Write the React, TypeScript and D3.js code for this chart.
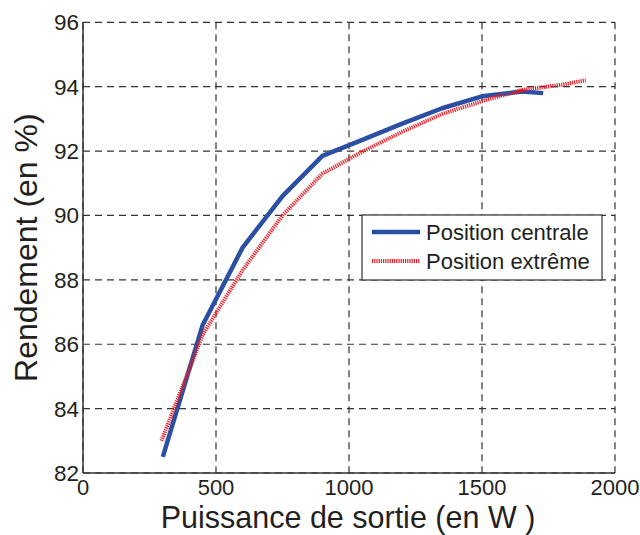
import React from "react";
import * as d3 from "d3";

const xTicks = [0, 500, 1000, 1500, 2000];
const yTicks = [82, 84, 86, 88, 90, 92, 94, 96];
const centraleX = [300, 450, 600, 750, 900, 1050, 1200, 1350, 1500, 1650, 1730];
const centraleY = [82.5, 86.6, 89.0, 90.6, 91.85, 92.35, 92.85, 93.33, 93.7, 93.85, 93.8];
const extremeX = [295, 450, 600, 750, 900, 1050, 1200, 1350, 1500, 1650, 1800, 1890];
const extremeY = [83.0, 86.3, 88.3, 90.0, 91.3, 91.98, 92.6, 93.15, 93.55, 93.9, 94.06, 94.2];
const seriesNames = ["Position centrale", "Position extrême"];

export default function App() {
  const W = 640, H = 535;
  const x = d3.scaleLinear().domain([0, 2000]).range([83, 615]);
  const y = d3.scaleLinear().domain([82, 96]).range([473, 22.3]);
  const line = d3.line<[number, number]>().x(d => x(d[0])).y(d => y(d[1]));
  const c = centraleX.map((v, i) => [v, centraleY[i]] as [number, number]);
  const e = extremeX.map((v, i) => [v, extremeY[i]] as [number, number]);
  const font = "Liberation Sans, Arial, sans-serif";
  const txt = "#231f20";
  return (
    <svg width={W} height={H} style={{ position: "absolute", left: 0, top: 0 }} fontFamily={font}>
      <rect width={W} height={H} fill="#fff" />
      {xTicks.map(t => (
        <line key={"gx" + t} x1={x(t)} x2={x(t)} y1={y(96)} y2={y(82)} stroke="#333" strokeWidth={1.2} strokeDasharray="7,5" />
      ))}
      {yTicks.map(t => (
        <line key={"gy" + t} x1={x(0)} x2={x(2000)} y1={y(t)} y2={y(t)} stroke="#333" strokeWidth={1.2} strokeDasharray="7,5" />
      ))}
      <line x1={x(0)} x2={x(0)} y1={y(96)} y2={y(82)} stroke="#333" strokeWidth={1.5} />
      <line x1={x(0)} x2={x(2000)} y1={y(82)} y2={y(82)} stroke="#333" strokeWidth={1.5} />
      {xTicks.map(t => (
        <text key={"tx" + t} x={x(t)} y={495} textAnchor="middle" fontSize={22} fill={txt}>{t}</text>
      ))}
      {yTicks.map(t => (
        <text key={"ty" + t} x={x(0) - 4} y={y(t) + 8} textAnchor="end" fontSize={22.5} fill={txt}>{t}</text>
      ))}
      <text x={348} y={528} textAnchor="middle" fontSize={30.5} fill={txt}>Puissance de sortie (en W )</text>
      <text transform={`translate(37,${y(89)}) rotate(-90)`} textAnchor="middle" fontSize={32} fill={txt}>Rendement (en %)</text>
      <path d={line(c) || ""} fill="none" stroke="#2b4fa3" strokeWidth={4.5} strokeLinejoin="round" />
      <path d={line(e) || ""} fill="none" stroke="#ee1c25" strokeWidth={4} strokeDasharray="1.2,1" />
      <rect x={362} y={215} width={240} height={65} fill="#fff" stroke="#333" strokeWidth={1.2} />
      <line x1={372} x2={420} y1={232} y2={232} stroke="#2b4fa3" strokeWidth={4.5} />
      <line x1={372} x2={420} y1={261} y2={261} stroke="#ee1c25" strokeWidth={4} strokeDasharray="1.2,1" />
      <text x={426} y={240} fontSize={22} fill={txt}>{seriesNames[0]}</text>
      <text x={426} y={269} fontSize={22} fill={txt}>{seriesNames[1]}</text>
    </svg>
  );
}
